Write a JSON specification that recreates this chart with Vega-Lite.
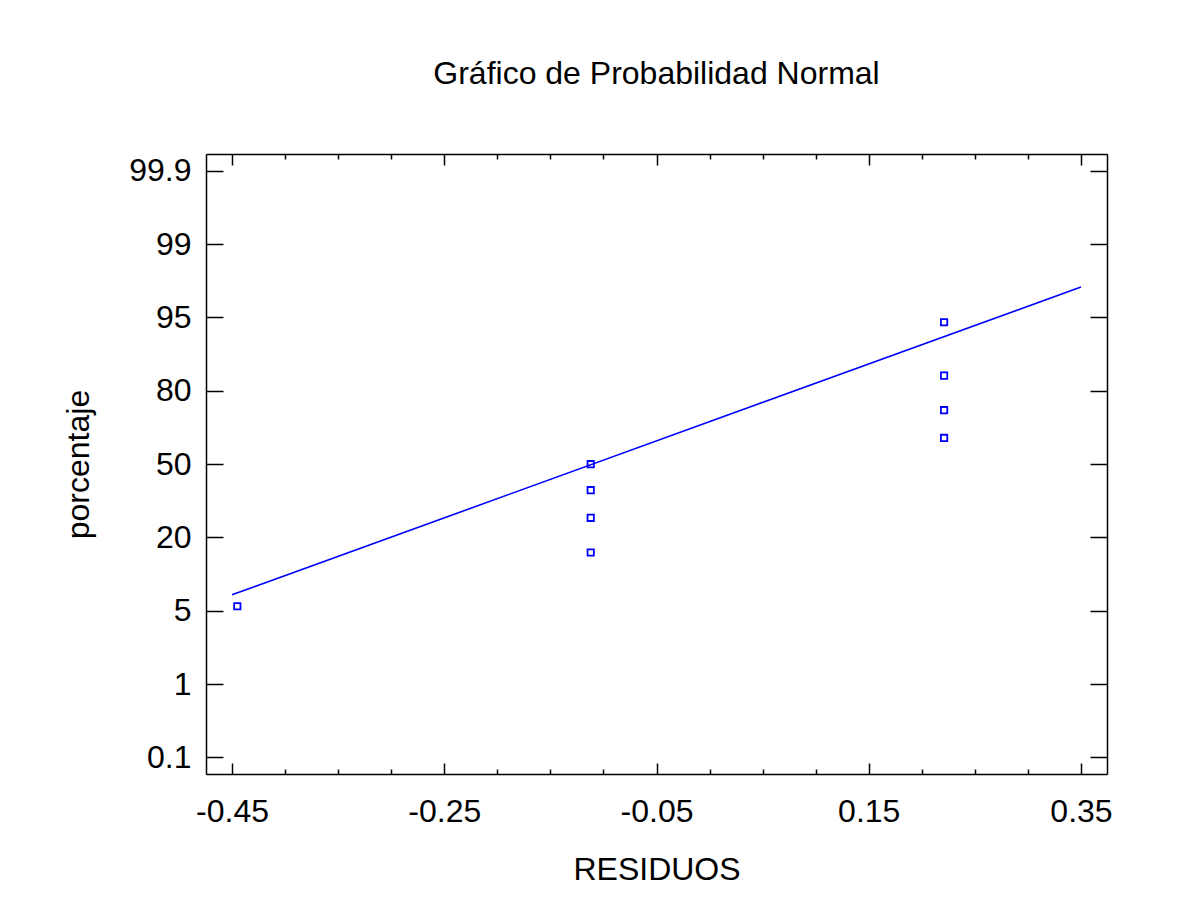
{
  "$schema": "https://vega.github.io/schema/vega-lite/v6.json",
  "autosize": {"type": "none"},
  "width": 901,
  "height": 620,
  "padding": {"left": 206, "top": 154, "right": 83, "bottom": 134},
  "background": "white",
  "config": {
    "view": {"stroke": null},
    "font": "Liberation Sans",
    "axis": {
      "domainColor": "black",
      "domainWidth": 1.5,
      "tickColor": "black",
      "tickWidth": 1.5,
      "grid": false,
      "labelFont": "Liberation Sans",
      "titleFont": "Liberation Sans",
      "labelFontSize": 32,
      "titleFontSize": 32,
      "labelColor": "black",
      "titleColor": "black",
      "titleFontWeight": "normal"
    }
  },
  "title": {
    "text": "Gráfico de Probabilidad Normal",
    "font": "Liberation Sans",
    "fontSize": 32,
    "fontWeight": "normal",
    "color": "black",
    "anchor": "middle",
    "baseline": "alphabetic",
    "offset": 37
  },
  "datasets": {
    "pts": [
      {"residuo": -0.445, "pos": 2.061},
      {"residuo": -0.112, "pos": 3.999},
      {"residuo": -0.112, "pos": 3.644},
      {"residuo": -0.112, "pos": 3.267},
      {"residuo": -0.112, "pos": 2.794},
      {"residuo": 0.221, "pos": 5.934},
      {"residuo": 0.221, "pos": 5.206},
      {"residuo": 0.221, "pos": 4.735},
      {"residuo": 0.221, "pos": 4.357}
    ],
    "fit": [
      {"residuo": -0.45, "pos": 2.217},
      {"residuo": 0.35, "pos": 6.415}
    ]
  },
  "resolve": {"axis": {"x": "independent", "y": "independent"}},
  "layer": [
    {
      "data": {"name": "pts"},
      "mark": {"type": "point", "shape": "square", "filled": false, "size": 40, "strokeWidth": 1.8, "color": "#0000ff", "opacity": 1},
      "encoding": {
        "x": {
          "field": "residuo", "type": "quantitative",
          "scale": {"domain": [-0.4745, 0.3745], "nice": false, "zero": false},
          "axis": {
            "orient": "bottom",
            "title": "RESIDUOS",
            "values": [-0.45,-0.4,-0.35,-0.3,-0.25,-0.2,-0.15,-0.1,-0.05,0,0.05,0.1,0.15,0.2,0.25,0.3,0.35],
            "labelExpr": "round((datum.value+0.45)*20)%4==0 ? ['-0.45','-0.25','-0.05','0.15','0.35'][round((datum.value+0.45)*5)] : ''",
            "tickSize": {"condition": {"test": "round((datum.value+0.45)*20)%4==0", "value": -11}, "value": -5},
            "labelPadding": 33,
            "labelFlush": false,
            "labelOverlap": false,
            "titlePadding": 21
          }
        },
        "y": {
          "field": "pos", "type": "quantitative",
          "scale": {"domain": [-0.226, 8.228], "nice": false, "zero": false},
          "axis": {
            "orient": "left",
            "title": "porcentaje",
            "values": [0,1,2,3,4,5,6,7,8],
            "labelExpr": "['0.1','1','5','20','50','80','95','99','99.9'][datum.value]",
            "tickSize": -17,
            "labelPadding": 32,
            "labelFlush": false,
            "labelOverlap": false,
            "titlePadding": 33
          }
        }
      }
    },
    {
      "data": {"name": "fit"},
      "mark": {"type": "line", "color": "#0000ff", "strokeWidth": 1.6},
      "encoding": {
        "x": {
          "field": "residuo", "type": "quantitative",
          "axis": {
            "orient": "top",
            "title": null,
            "labels": false,
            "values": [-0.45,-0.4,-0.35,-0.3,-0.25,-0.2,-0.15,-0.1,-0.05,0,0.05,0.1,0.15,0.2,0.25,0.3,0.35],
            "tickSize": {"condition": {"test": "round((datum.value+0.45)*20)%4==0", "value": -11}, "value": -5}
          }
        },
        "y": {
          "field": "pos", "type": "quantitative",
          "axis": {
            "orient": "right",
            "title": null,
            "labels": false,
            "values": [0,1,2,3,4,5,6,7,8],
            "tickSize": -17
          }
        }
      }
    }
  ]
}
